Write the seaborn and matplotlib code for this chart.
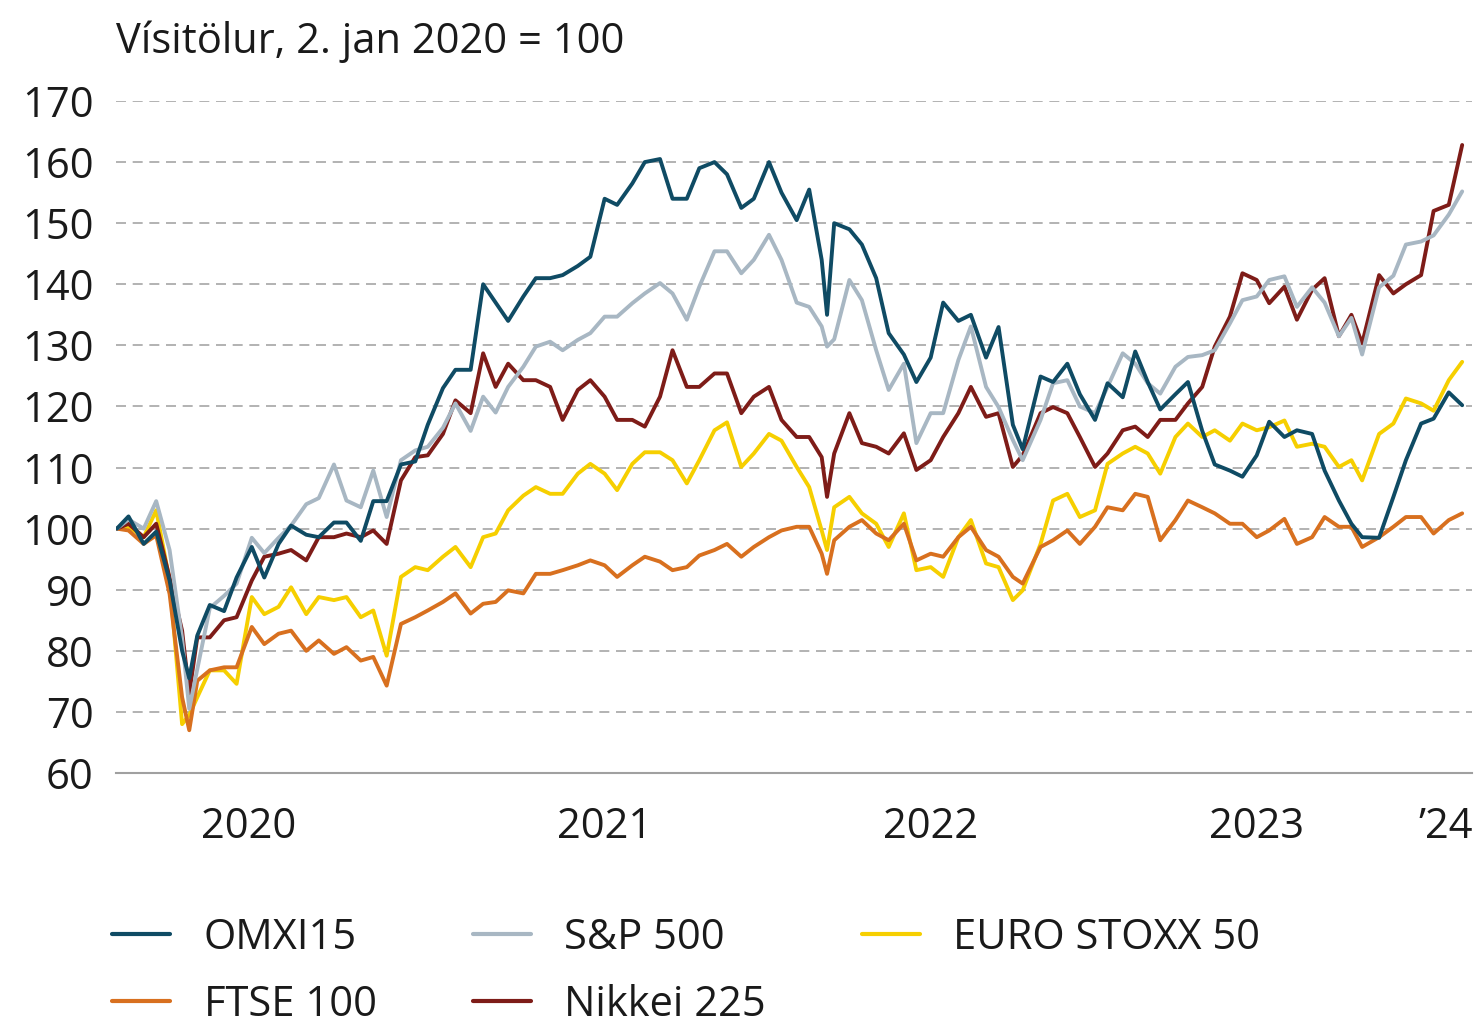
import matplotlib
matplotlib.use('Agg')
import matplotlib.pyplot as plt
import matplotlib.dates as mdates
from matplotlib.lines import Line2D
import pandas as pd
import seaborn as sns

# dates (roughly twice a month)
dates = [
    '2020-01-02', '2020-01-15', '2020-02-01', '2020-02-15', '2020-03-01', '2020-03-15', '2020-03-23',
    '2020-04-01', '2020-04-15', '2020-05-01', '2020-05-15', '2020-06-01', '2020-06-15', '2020-07-01',
    '2020-07-15', '2020-08-01', '2020-08-15', '2020-09-01', '2020-09-15', '2020-10-01', '2020-10-15',
    '2020-10-30', '2020-11-15', '2020-12-01', '2020-12-15', '2021-01-01', '2021-01-15', '2021-02-01',
    '2021-02-15', '2021-03-01', '2021-03-15', '2021-04-01', '2021-04-15', '2021-05-01', '2021-05-15',
    '2021-06-01', '2021-06-15', '2021-07-01', '2021-07-15', '2021-08-01', '2021-08-15', '2021-09-01',
    '2021-09-15', '2021-10-01', '2021-10-15', '2021-11-01', '2021-11-15', '2021-12-01', '2021-12-15',
    '2022-01-01', '2022-01-15', '2022-02-01', '2022-02-15', '2022-03-01', '2022-03-07', '2022-03-15',
    '2022-04-01', '2022-04-15', '2022-05-01', '2022-05-15', '2022-06-01', '2022-06-15', '2022-07-01',
    '2022-07-15', '2022-08-01', '2022-08-15', '2022-09-01', '2022-09-15', '2022-10-01', '2022-10-12',
    '2022-11-01', '2022-11-15', '2022-12-01', '2022-12-15', '2023-01-01', '2023-01-15', '2023-02-01',
    '2023-02-15', '2023-03-01', '2023-03-15', '2023-04-01', '2023-04-15', '2023-05-01', '2023-05-15',
    '2023-06-01', '2023-06-15', '2023-07-01', '2023-07-15', '2023-08-01', '2023-08-15', '2023-09-01',
    '2023-09-15', '2023-10-01', '2023-10-15', '2023-10-27', '2023-11-15', '2023-12-01', '2023-12-15',
    '2024-01-01', '2024-01-15', '2024-02-01', '2024-02-16',
]

omxi15 = [
    100, 102, 97.5, 99.5, 91.5, 80, 75.5, 82.5, 87.5, 86.5, 92, 97, 92, 97.5,
    100.5, 99, 98.6, 101, 101, 98, 104.5, 104.5, 110.5, 111, 117, 123, 126, 126,
    140, 137, 134, 138, 141, 141, 141.5, 143, 144.5, 154, 153, 156.5, 160, 160.5,
    154, 154, 159, 160, 158, 152.5, 154, 160, 155, 150.5, 155.5, 144, 135, 150,
    149, 146.5, 141, 132, 128.5, 124, 128, 137, 134, 135, 128, 133, 117, 113,
    124.9, 124, 127, 122, 117.8, 123.8, 121.5, 129, 124, 119.5, 122, 124, 116, 110.5,
    109.5, 108.5, 112, 117.5, 115, 116.1, 115.5, 109.5, 104.6, 100.8, 98.6, 98.5, 105.2, 111.2,
    117.2, 118, 122.3, 120.2,
]

sp500 = [
    100, 101.5, 100, 104.5, 96.5, 82, 70.5, 77, 87, 89, 91, 98.5, 96, 98.5,
    100.5, 104, 105, 110.5, 104.6, 103.5, 109.5, 101.9, 111.2, 112.8, 113.4, 116.5, 120.5, 116,
    121.6, 119, 123.2, 126.5, 129.8, 130.6, 129.2, 130.9, 132, 134.7, 134.7, 136.9, 138.5, 140.2,
    138.5, 134.2, 139.6, 145.4, 145.4, 141.8, 144, 148.1, 144, 137, 136.3, 133.1, 129.8, 131,
    140.7, 137.4, 129.2, 122.7, 127, 114, 118.9, 118.9, 127.6, 133.1, 123.2, 119.9, 114.5, 111.2,
    117.8, 123.8, 124.3, 120, 118.9, 123.2, 128.7, 127, 123.8, 122.1, 126.5, 128.1, 128.4, 129.2,
    133.6, 137.4, 138, 140.7, 141.3, 136.3, 139.5, 137, 131.5, 134.5, 128.5, 139.5, 141.4, 146.5,
    147, 148, 151.4, 155.2,
]

nikkei225 = [
    100, 100.8, 98.6, 100.8, 92, 83.3, 73, 82.2, 82.2, 85, 85.5, 91.5, 95.4, 95.9,
    96.5, 94.8, 98.6, 98.6, 99.2, 98.6, 99.7, 97.5, 107.9, 111.7, 112, 115.5, 121, 118.9,
    128.7, 123.2, 127, 124.3, 124.3, 123.2, 117.8, 122.7, 124.3, 121.6, 117.8, 117.8, 116.7, 121.6,
    129.2, 123.2, 123.2, 125.4, 125.4, 118.9, 121.6, 123.2, 117.8, 115, 115, 111.7, 105.2, 112.3,
    118.9, 114, 113.4, 112.3, 115.6, 109.6, 111.2, 115, 118.9, 123.2, 118.3, 118.9, 110.1, 112,
    118.9, 119.9, 118.9, 115, 110.1, 112.3, 116.1, 116.7, 115, 117.8, 117.8, 120.5, 123.2, 129.8,
    134.7, 141.8, 140.7, 136.9, 139.6, 134.2, 139.1, 141, 131.5, 135, 130.3, 141.5, 138.5, 140,
    141.5, 152, 153, 162.8,
]

eurostoxx50 = [
    100, 100.3, 98.6, 103, 91.5, 68, 69.5, 72.4, 76.8, 76.8, 74.6, 88.8, 86, 87.2,
    90.4, 86, 88.8, 88.3, 88.8, 85.5, 86.6, 79.2, 92.1, 93.7, 93.2, 95.4, 97, 93.7,
    98.6, 99.2, 103, 105.4, 106.8, 105.7, 105.7, 109, 110.6, 109, 106.3, 110.6, 112.5, 112.5,
    111.2, 107.4, 111.2, 116.1, 117.4, 110.1, 112.3, 115.5, 114.4, 110.1, 106.8, 99.7, 96.5, 103.5,
    105.2, 102.5, 100.8, 97, 102.5, 93.2, 93.7, 92.1, 98.6, 101.4, 94.3, 93.7, 88.3, 89.9,
    97.5, 104.6, 105.7, 101.9, 103, 110.6, 112.3, 113.4, 112.3, 109, 115, 117.2, 115, 116.1,
    114.4, 117.2, 116.1, 116.6, 117.7, 113.4, 113.9, 113.4, 110.1, 111.2, 107.9, 115.5, 117.2, 121.3,
    120.5, 119.3, 124.3, 127.3,
]

ftse100 = [
    100, 99.7, 97.5, 98.9, 89.3, 72.4, 67, 75.1, 76.8, 77.3, 77.3, 83.9, 81.1, 82.8,
    83.3, 80, 81.7, 79.5, 80.6, 78.4, 79, 74.3, 84.4, 85.5, 86.6, 88, 89.4, 86.1,
    87.7, 88, 89.9, 89.4, 92.6, 92.6, 93.2, 94, 94.8, 94, 92.1, 94, 95.4, 94.6,
    93.2, 93.7, 95.6, 96.5, 97.5, 95.4, 97, 98.6, 99.7, 100.3, 100.3, 95.9, 92.6, 98.1,
    100.3, 101.4, 99.2, 98.1, 100.8, 94.8, 95.9, 95.4, 98.6, 100.3, 96.5, 95.4, 92.1, 91,
    97, 98.1, 99.7, 97.5, 100.3, 103.5, 103, 105.7, 105.2, 98.1, 101.4, 104.6, 103.5, 102.5,
    100.8, 100.8, 98.6, 99.7, 101.6, 97.5, 98.6, 101.9, 100.3, 100.3, 97, 98.6, 100.3, 101.9,
    101.9, 99.2, 101.4, 102.5,
]

year_labels = ['2020', '2021', '2022', '2023', '\u201924']
year_label_pos = ['2020-05-29', '2021-07-01', '2022-07-01', '2023-07-01', '2024-01-29']

colors = {
    'OMXI15': '#0f4b64',
    'S&P 500': '#a8b7c3',
    'EURO STOXX 50': '#f6cf00',
    'FTSE 100': '#d8701f',
    'Nikkei 225': '#7e1c18',
}

df = pd.DataFrame({
    'date': pd.to_datetime(dates),
    'OMXI15': omxi15,
    'S&P 500': sp500,
    'EURO STOXX 50': eurostoxx50,
    'FTSE 100': ftse100,
    'Nikkei 225': nikkei225,
})
long_df = df.melt(id_vars='date', var_name='visitala', value_name='gildi')

sns.set_style('white')
plt.rcParams['font.family'] = ['Open Sans', 'DejaVu Sans']
text_color = '#1a1a1a'
fs = 30

fig = plt.figure(figsize=(14.75, 10.27), dpi=100)
ax = fig.add_axes([116 / 1475, 1 - 773 / 1027, (1472 - 116) / 1475, (773 - 101) / 1027])

# drawing order: later ones on top
draw_order = ['EURO STOXX 50', 'FTSE 100', 'Nikkei 225', 'S&P 500', 'OMXI15']
sns.lineplot(data=long_df, x='date', y='gildi', hue='visitala', hue_order=draw_order,
             palette=colors, linewidth=2.8, legend=False, ax=ax)

ax.set_ylim(60, 170)
ax.set_yticks(range(60, 171, 10))
ax.set_xlim(pd.Timestamp('2020-01-01'), pd.Timestamp('2024-02-27'))
ax.set_xlabel('')
ax.set_ylabel('')

ax.grid(axis='y', linestyle=(0, (6, 4)), color='#a6a6a6', linewidth=1.2)
ax.grid(axis='x', visible=False)
for s in ['left', 'right', 'top']:
    ax.spines[s].set_visible(False)
ax.spines['bottom'].set_color('#a0a0a0')
ax.spines['bottom'].set_linewidth(1.5)

ax.xaxis.set_major_locator(mdates.YearLocator())
ax.xaxis.set_major_formatter(plt.NullFormatter())
ax.xaxis.set_minor_locator(plt.FixedLocator(mdates.date2num(pd.to_datetime(year_label_pos))))
ax.xaxis.set_minor_formatter(plt.FixedFormatter(year_labels))
ax.tick_params(axis='x', which='major', direction='out', length=18, width=1.2, color='#a0a0a0')
ax.tick_params(axis='x', which='minor', length=0, pad=24, labelsize=fs, labelcolor=text_color)
ax.tick_params(axis='y', length=0, pad=16, labelsize=fs, labelcolor=text_color)

fig.text(116 / 1475, 1 - 42 / 1027, 'Vísitölur, 2. jan 2020 = 100', fontsize=fs,
         color=text_color, ha='left', va='center')

legend_order = ['OMXI15', 'FTSE 100', 'S&P 500', 'Nikkei 225', 'EURO STOXX 50']
handles = [Line2D([], [], color=colors[k], linewidth=3) for k in legend_order]
fig.legend(handles, legend_order, loc='upper left', bbox_to_anchor=(112 / 1475, 1 - 917 / 1027),
           ncol=3, frameon=False, fontsize=fs, handlelength=1.4, handletextpad=0.8,
           columnspacing=2.3, labelspacing=0.6, borderpad=0, borderaxespad=0,
           labelcolor=text_color)

fig.savefig('out.png', dpi=100)
